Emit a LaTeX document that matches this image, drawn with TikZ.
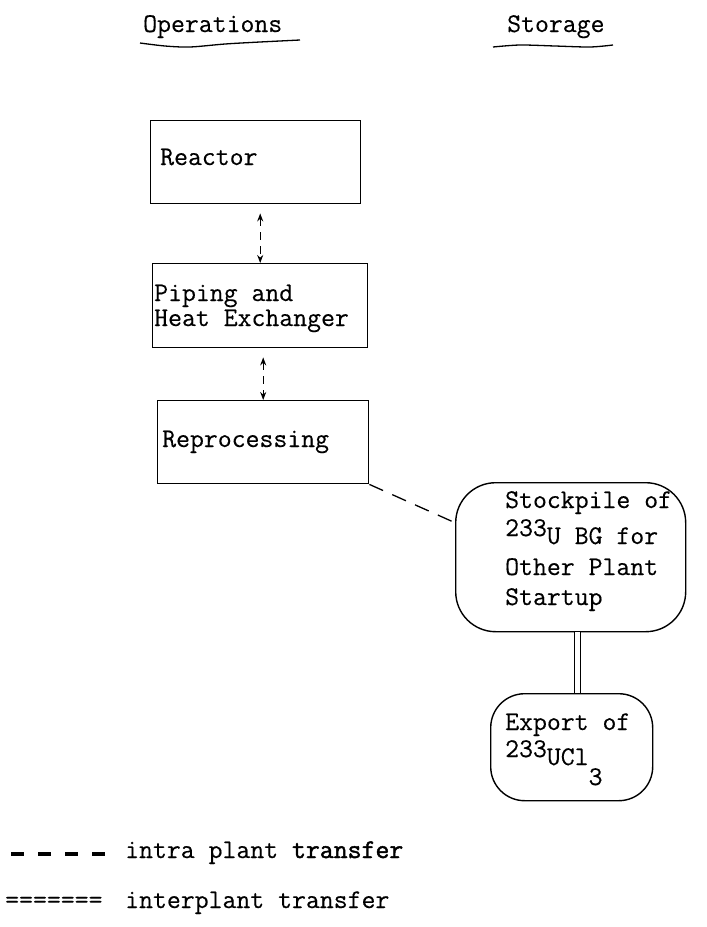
\documentclass[tikz,border=0pt]{standalone}
\usepackage{fontspec}
\newfontfamily\tw{Latin Modern Mono}[FakeBold=0.3]
\newfontfamily\twb{Latin Modern Mono}[FakeBold=1.6]
\usetikzlibrary{arrows.meta}
\begin{document}
\begin{tikzpicture}[x=1pt,y=-1pt,
  box/.style={draw, line width=1.4pt, inner sep=0pt, anchor=north west},
  blob/.style={draw, line width=1.4pt, inner sep=0pt, anchor=north west, rounded corners=40pt},
  txt/.style={inner sep=0pt, anchor=base west, font=\tw\fontsize{27}{29}\selectfont},
  link/.style={line width=1.1pt, dash pattern=on 8pt off 6pt, {Stealth[length=8pt,width=6pt]}-{Stealth[length=8pt,width=6pt]}},
  uline/.style={line width=1.3pt},
]
\useasboundingbox (0,0) rectangle (707,927);
\fill[white] (0,0) rectangle (707,927);

% headings
\node[txt] (hop) at (143,32) {Operations};
\node[txt] (hst) at (507,32) {Storage};
\draw[uline] plot[smooth] coordinates {(140,43) (165,46) (190,47) (225,44) (260,42) (300,40)};
\draw[uline] plot[smooth] coordinates {(493,47) (520,45) (555,46) (590,47) (613,45)};

% operation boxes
\node[box, minimum width=210pt, minimum height=83pt] (reactor) at (150,120) {};
\node[box, minimum width=215pt, minimum height=84pt] (piping) at (152,263) {};
\node[box, minimum width=211pt, minimum height=83pt] (repro) at (157,400) {};
\node[txt] (treactor) at (160,165) {Reactor};
\node[txt] (tpip1) at (154,301) {Piping and};
\node[txt] (tpip2) at (154,326) {Heat Exchanger};
\node[txt] (trepro) at (162,447) {Reprocessing};

% storage
\node[blob, minimum width=230pt, minimum height=149pt] (stock) at (455,482) {};
\node[txt] (ts1) at (505,508) {Stockpile of};
\node[txt] (ts2) at (505,544) {\raisebox{8pt}{233}U BG for};
\node[txt] (ts3) at (505,575) {Other Plant};
\node[txt] (ts4) at (505,605) {Startup};

\node[blob, rounded corners=34pt, minimum width=162pt, minimum height=107pt] (export) at (490,693) {};
\node[txt] (te1) at (505,730) {Export of};
\node[txt] (te2) at (505,765) {\raisebox{8pt}{233}UCl\raisebox{-20pt}{3}};

% connectors
\draw[link, shorten <=9pt] (reactor.south -| piping.north) -- (piping.north);
\draw[link, shorten <=9pt] (piping.south -| repro.north) -- (repro.north);
\draw[line width=1.3pt, dash pattern=on 15pt off 10pt] (repro.south east) -- ([yshift=34.5pt]stock.west);
\draw[double, double distance=5pt, line width=1.1pt] ([xshift=7pt]stock.south) -- ([xshift=6pt]export.north);

% legend
\coordinate (la) at (11,854);
\coordinate (lb) at (106,854);
\draw[line width=4pt, dash pattern=on 13pt off 14pt] (la) -- (lb);
\node[txt] (l1) at (125,858) {intra plant {\twb transfer}};
\node[txt] (l2sym) at (5,908) {=======};
\node[txt] (l2) at (125,908) {interplant transfer};
\end{tikzpicture}
\end{document}
